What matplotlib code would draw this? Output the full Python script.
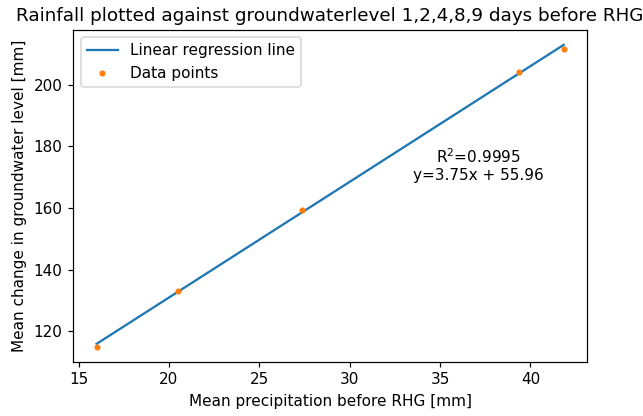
import matplotlib.pyplot as plt
import numpy as np

# Nedbør (x) og endring i grunnvannsnivå (y) for 1,2,4,8,9 dager før RHG
nedbor = np.array([16.0, 20.5, 27.34, 39.39, 41.84])
grunnvann = np.array([115.05, 132.96, 159.3, 204.2, 211.4])

# Regresjonslinje y = a*x + b
a = 3.75
b = 55.96
r2 = 0.9995

dpi = 110
fig = plt.figure(figsize=(643 / dpi, 416 / dpi), dpi=dpi)
ax = fig.add_axes([0.114, 0.1305, 0.799, 0.798])

ax.plot(nedbor, a * nedbor + b, label='Linear regression line')
ax.plot(nedbor, grunnvann, '.', label='Data points')
ax.text(37.1, 173.8, f'R$^2$={r2}\ny={a}x + {b}', ha='center', va='center', multialignment='center')

ax.set_title('Rainfall plotted against groundwaterlevel 1,2,4,8,9 days before RHG')
ax.set_xlabel('Mean precipitation before RHG [mm]')
ax.set_ylabel('Mean change in groundwater level [mm]')
ax.legend(loc='upper left')

fig.savefig('out.png', dpi=dpi)
